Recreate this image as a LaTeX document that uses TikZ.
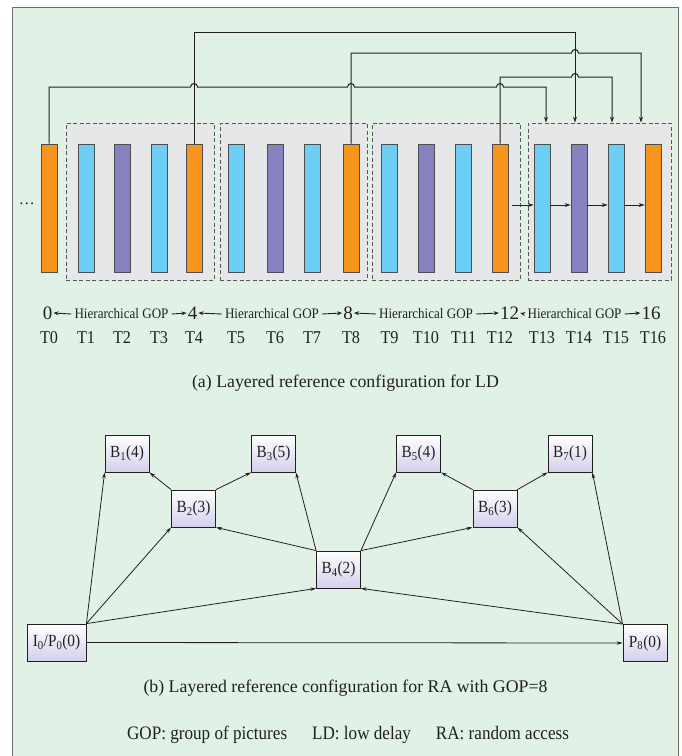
\documentclass[tikz,border=0pt]{standalone}
\usepackage{fontspec}
\setmainfont{Liberation Serif}
\newfontfamily\condf[FakeStretch=0.9]{Liberation Serif}
\usetikzlibrary{arrows.meta}
\definecolor{bggreen}{HTML}{E1F1E6}
\definecolor{gopgray}{HTML}{E6E7E9}
\definecolor{iorange}{HTML}{F7941D}
\definecolor{bcyan}{HTML}{6DCFF6}
\definecolor{bpurple}{HTML}{8781BD}
\definecolor{framegray}{HTML}{6E6E6E}
\definecolor{lav}{HTML}{D3CFEC}
\definecolor{ink}{HTML}{231F20}
\begin{document}
\begin{tikzpicture}[x=1pt,y=-1pt,
  bar/.style={draw=ink!80, line width=0.7pt, minimum width=16pt, minimum height=128pt, inner sep=0pt},
  gopbox/.style={draw=ink!75, dash pattern=on 4pt off 2.5pt, fill=gopgray, line width=0.8pt, inner sep=0pt, minimum height=157pt},
  conn/.style={draw=ink, line width=1pt},
  tip/.style={-{Stealth[length=6pt,width=4pt]}},
  txtarrow/.style={draw=ink, line width=0.9pt, -{Stealth[length=5pt,width=4pt]}},
  picbox/.style={draw=ink, top color=white, bottom color=lav, line width=0.8pt, minimum height=37pt, minimum width=44pt, inner sep=0pt, text=ink, font=\condf\fontsize{17}{19}\selectfont},
  hgop/.style={inner xsep=3pt, inner ysep=0pt, text=ink, font=\condf\fontsize{14.5}{16}\selectfont},
  num/.style={inner xsep=1pt, inner ysep=0pt, text=ink, font=\fontsize{19}{21}\selectfont},
  tlab/.style={inner sep=0pt, text=ink, font=\condf\fontsize{18}{20}\selectfont},
  caption/.style={inner sep=0pt, text=ink, font=\fontsize{17.8}{20}\selectfont},
  footer/.style={inner sep=0pt, text=ink, font=\condf\fontsize{19}{21}\selectfont},
  edge/.style={draw=ink, line width=0.8pt, -{Stealth[length=6pt,width=3.5pt]}}
]
\useasboundingbox (0,0) rectangle (681,756);
% background frame
\fill[bggreen] (12,7) rectangle (678,760);
\draw[framegray, line width=1pt] (12,760) -- (12,7) -- (678,7) -- (678,760);

% GOP boxes
\node[gopbox, minimum width=148pt] (g1) at (140,201.5) {};
\node[gopbox, minimum width=147pt] (g2) at (293.5,201.5) {};
\node[gopbox, minimum width=148pt] (g3) at (446,201.5) {};
\node[gopbox, minimum width=143pt] (g4) at (599.5,201.5) {};

% frames
\foreach \i/\x/\c in {0/49/iorange,1/86/bcyan,2/122/bpurple,3/159/bcyan,4/194/iorange,
  5/236/bcyan,6/275/bpurple,7/312/bcyan,8/351/iorange,
  9/389.5/bcyan,10/426/bpurple,11/463.5/bcyan,12/500/iorange,
  13/542/bcyan,14/579/bpurple,15/616/bcyan,16/653/iorange}
  \node[bar, fill=\c] (t\i) at (\x,208) {};

\node[inner sep=0pt, text=ink, font=\fontsize{16}{18}\selectfont] (dots) at (27,204) {\dots};

% reference connectors (with line jumps)
\draw[conn,tip] (t0.north) -- (t0.north |- 0,87) -- (190.5,87) arc[start angle=180,end angle=0,radius=3.5pt]
  -- (347.5,87) arc[start angle=180,end angle=0,radius=3.5pt]
  -- (496.5,87) arc[start angle=180,end angle=0,radius=3.5pt]
  -- (546,87) -- (g4.north -| 546,0);
\draw[conn,tip] (t4.north) -- (t4.north |- 0,32) -- (575,32) -- (g4.north -| 575,0);
\draw[conn,tip] (t8.north) -- (t8.north |- 0,53) -- (571.5,53) arc[start angle=180,end angle=0,radius=3.5pt]
  -- (641,53) -- (g4.north -| 641,0);
\draw[conn,tip] (t12.north) -- (t12.north |- 0,77) -- (571.5,77) arc[start angle=180,end angle=0,radius=3.5pt]
  -- (612,77) -- (g4.north -| 612,0);

% low-delay chain
\coordinate (hs) at (512,205);
\draw[conn,tip] (hs) -- (hs -| t13.west);
\draw[conn,tip] (t13.east |- hs) -- (t14.west |- hs);
\draw[conn,tip] (t14.east |- hs) -- (t15.west |- hs);
\draw[conn,tip] (t15.east |- hs) -- (t16.west |- hs);

% GOP ruler
\node[num] (n0) at (47.5,313) {0};
\node[num] (n4) at (192.5,313) {4};
\node[num] (n8) at (348,313) {8};
\node[num] (n12) at (509.5,313) {12};
\node[num] (n16) at (651,313) {16};
\node[hgop] (h1) at (121.5,314) {Hierarchical GOP};
\node[hgop] (h2) at (272,314) {Hierarchical GOP};
\node[hgop] (h3) at (426,314) {Hierarchical GOP};
\node[hgop] (h4) at (574.5,314) {Hierarchical GOP};
\draw[txtarrow] (h1.west) -- (n0.east);
\draw[txtarrow] (h1.east) -- (n4.west);
\draw[txtarrow] (h2.west) -- (n4.east);
\draw[txtarrow] (h2.east) -- (n8.west);
\draw[txtarrow] (h3.west) -- (n8.east);
\draw[txtarrow] (h3.east) -- (n12.west);
\draw[txtarrow] (h4.west) -- (n12.east);
\draw[txtarrow] (h4.east) -- (n16.west);

% time labels
\foreach \i in {0,...,16}
  \node[tlab] (l\i) at (t\i.center |- 0,338) {T\i};

\node[caption] (capa) at (345.5,383) {(a) Layered reference configuration for LD};

% RA hierarchy
\node[picbox] (b1) at (127,453.5) {B\textsubscript{1}(4)};
\node[picbox] (b3) at (273.5,453.5) {B\textsubscript{3}(5)};
\node[picbox] (b5) at (418.5,453.5) {B\textsubscript{5}(4)};
\node[picbox] (b7) at (570,453.5) {B\textsubscript{7}(1)};
\node[picbox] (b2) at (193.5,508.5) {B\textsubscript{2}(3)};
\node[picbox] (b6) at (495,508.5) {B\textsubscript{6}(3)};
\node[picbox] (b4) at (338.5,569.5) {B\textsubscript{4}(2)};
\node[picbox, minimum width=59pt] (i0) at (56.5,642.5) {I\textsubscript{0}/P\textsubscript{0}(0)};
\node[picbox] (p8) at (645,643) {P\textsubscript{8}(0)};

\draw[edge] (i0.north east) -- (b1.south west);
\draw[edge] (i0.north east) -- (b2.south west);
\draw[edge] (i0.north east) -- (b4.south west);
\draw[edge] (i0.east) -- (p8.west);
\draw[edge] (b2.north west) -- (b1.south east);
\draw[edge] (b2.north east) -- (b3.south west);
\draw[edge] (b4.north west) -- (b2.south east);
\draw[edge] (b4.north west) -- (b3.south east);
\draw[edge] (b4.north east) -- (b5.south west);
\draw[edge] (b4.north east) -- (b6.south west);
\draw[edge] (b6.north west) -- (b5.south east);
\draw[edge] (b6.north east) -- (b7.south west);
\draw[edge] (p8.north west) -- (b6.south east);
\draw[edge] (p8.north west) -- (b4.south east);
\draw[edge] (p8.north west) -- (b7.south east);

\node[caption] (capb) at (345.5,688) {(b) Layered reference configuration for RA with GOP=8};
\node[footer] (foot) at (348,735) {GOP: group of pictures\hspace{25pt}LD: low delay\hspace{25pt}RA: random access};
\end{tikzpicture}
\end{document}
